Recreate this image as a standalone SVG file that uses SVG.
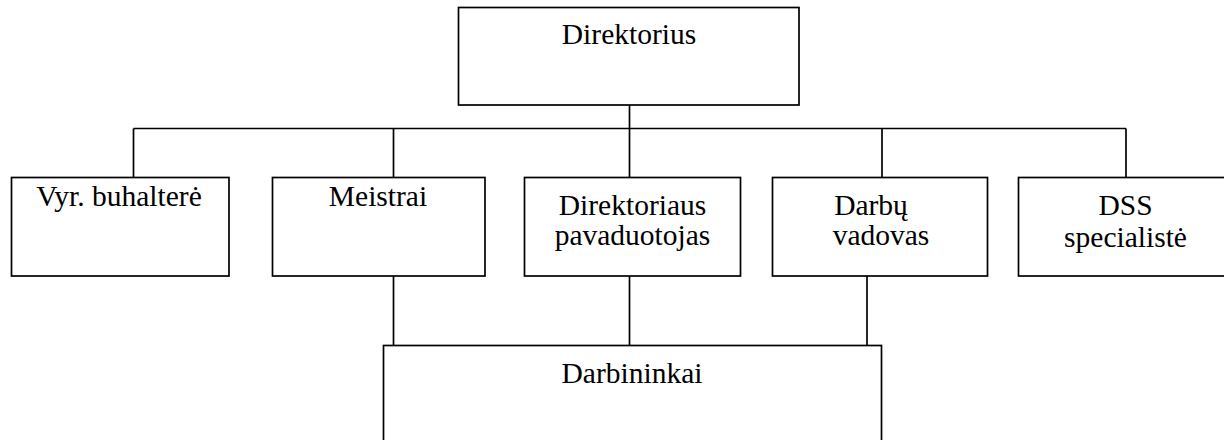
<svg xmlns="http://www.w3.org/2000/svg" width="1224" height="440" viewBox="0 0 1224 440">
  <style>
    .box { fill: #ffffff; stroke: #000000; stroke-width: 1.7; }
    .link { fill: none; stroke: #000000; stroke-width: 1.7; }
    .label { font-family: 'Liberation Serif', Tinos, 'Times New Roman', Times, 'DejaVu Serif', serif; font-size: 29.5px; fill: #000000; text-anchor: middle; }
  </style>
  <rect x="0" y="0" width="1224" height="440" fill="#ffffff"/>

  <!-- connectors -->
  <g id="connectors">
    <path class="link" d="M629.5 105 V128.5"/>
    <path class="link" d="M133.5 128.5 H1126"/>
    <path class="link" d="M133.5 128.5 V177.5"/>
    <path class="link" d="M393.5 128.5 V177.5"/>
    <path class="link" d="M629.5 128.5 V177.5"/>
    <path class="link" d="M882 128.5 V177.5"/>
    <path class="link" d="M1126 128.5 V177.5"/>
    <path class="link" d="M393.5 276 V345.5"/>
    <path class="link" d="M629.5 276 V345.5"/>
    <path class="link" d="M867 276 V345.5"/>
  </g>

  <g id="direktorius">
    <rect class="box" x="458.5" y="7.5" width="340.5" height="97.5"/>
    <text class="label" x="629" y="44">Direktorius</text>
  </g>

  <g id="vyr-buhaltere">
    <rect class="box" x="11.5" y="177.5" width="217.5" height="98.5"/>
    <text class="label" x="119" y="206">Vyr. buhalterė</text>
  </g>

  <g id="meistrai">
    <rect class="box" x="272.5" y="177.5" width="212.5" height="98.5"/>
    <text class="label" x="378" y="206">Meistrai</text>
  </g>

  <g id="direktoriaus-pavaduotojas">
    <rect class="box" x="524.5" y="177.5" width="216" height="98.5"/>
    <text class="label" x="632.5" y="215">Direktoriaus</text>
    <text class="label" x="632.5" y="245">pavaduotojas</text>
  </g>

  <g id="darbu-vadovas">
    <rect class="box" x="772.5" y="177.5" width="215" height="98.5"/>
    <text class="label" x="871" y="215">Darbų</text>
    <text class="label" x="881" y="245">vadovas</text>
  </g>

  <g id="dss-specialiste">
    <rect class="box" x="1018.5" y="177.5" width="215" height="98.5"/>
    <text class="label" x="1125.5" y="215">DSS</text>
    <text class="label" x="1125.5" y="247">specialistė</text>
  </g>

  <g id="darbininkai">
    <rect class="box" x="383.5" y="345.5" width="498" height="110"/>
    <text class="label" x="632" y="382.5">Darbininkai</text>
  </g>
</svg>
